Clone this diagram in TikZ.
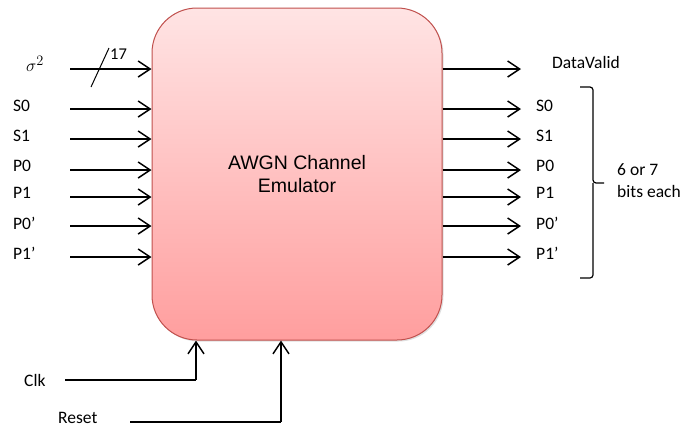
\documentclass[tikz,border=0pt]{standalone}
\usepackage{fontspec}
\setmainfont{Carlito}
\newfontfamily\arialf{Liberation Sans}
\usetikzlibrary{arrows.meta,shadows,calc}
\definecolor{boxtop}{HTML}{FFE4E4}
\definecolor{boxbot}{HTML}{FF9E9E}
\definecolor{boxline}{HTML}{C0504D}
\begin{document}
\begin{tikzpicture}[x=1pt,y=-1pt,
  lbl/.style={anchor=west,inner sep=0pt,font=\fontsize{17.5}{21}\selectfont},
  sig/.style={line width=1.5pt,-{Straight Barb[length=12pt,width=16pt,line width=1.5pt]}},
  wire/.style={line width=1.5pt}]
\useasboundingbox (0,0) rectangle (683,429);
\node[draw=boxline,line width=1pt,rounded corners=45pt,top color=boxtop,bottom color=boxbot,
  minimum width=290pt,minimum height=332pt,inner sep=0pt,
  drop shadow={opacity=0.25,shadow xshift=1.5pt,shadow yshift=-1.5pt},
  align=center,font=\arialf\fontsize{19.5}{22.5}\selectfont] (box) at (297,174) {AWGN Channel\\Emulator};
% inputs
\coordinate (isig) at (70,69);
\coordinate (iS0) at (70,109);
\coordinate (iS1) at (70,139);
\coordinate (iP0) at (70,170);
\coordinate (iP1) at (70,197);
\coordinate (iP0p) at (70,226);
\coordinate (iP1p) at (70,257);
\node[lbl,font=\fontsize{19}{21}\selectfont] (lsig) at (26,64) {$\sigma^2$};
\node[lbl] (lS0) at (13,106) {S0};
\node[lbl] (lS1) at (13,136) {S1};
\node[lbl] (lP0) at (13,166) {P0};
\node[lbl] (lP1) at (13,193) {P1};
\node[lbl] (lP0p) at (13,223) {P0’};
\node[lbl] (lP1p) at (13,253) {P1’};
\foreach \n in {isig,iS0,iS1,iP0,iP1,iP0p,iP1p}
  \draw[sig] (\n) -- (\n -| box.west);
\coordinate (sl1) at (91,87);
\coordinate (sl2) at (109,48);
\draw[line width=1pt] (sl1) -- (sl2);
\node[lbl,font=\fontsize{16.5}{19}\selectfont] (n17) at (110,54) {17};
% outputs
\coordinate (oDV) at (521,69);
\coordinate (oS0) at (521,109);
\coordinate (oS1) at (521,139);
\coordinate (oP0) at (521,170);
\coordinate (oP1) at (521,197);
\coordinate (oP0p) at (521,226);
\coordinate (oP1p) at (521,257);
\foreach \n in {oDV,oS0,oS1,oP0,oP1,oP0p,oP1p}
  \draw[sig] (\n -| box.east) -- (\n);
\node[lbl] (lDV) at (552,62) {DataValid};
\node[lbl] (oS0l) at (536,106) {S0};
\node[lbl] (oS1l) at (536,136) {S1};
\node[lbl] (oP0l) at (536,166) {P0};
\node[lbl] (oP1l) at (536,193) {P1};
\node[lbl] (oP0pl) at (536,223) {P0’};
\node[lbl] (oP1pl) at (536,253) {P1’};
% brace
\coordinate (bt) at (580,87);
\coordinate (bb) at (580,278);
\coordinate (bm) at (604,183);
\draw[line width=1.2pt,rounded corners=3pt] (bt) -- (593,87) -- (593,183) -- (bm);
\draw[line width=1.2pt,rounded corners=3pt] (bb) -- (593,278) -- (593,183);
\node[lbl,align=left,font=\fontsize{17.5}{22}\selectfont] (bits) at (617,181) {6 or 7\\bits each};
% clk / reset
\node[lbl] (lclk) at (24,380) {Clk};
\node[lbl] (lrst) at (58,418) {Reset};
\coordinate (cs) at (65,380);
\coordinate (ck) at (196,380);
\coordinate (rs) at (130,422);
\coordinate (rk) at (281,422);
\draw[wire] (cs) -- (ck);
\draw[sig] (ck) -- (ck |- box.south);
\draw[wire] (rs) -- (rk);
\draw[sig] (rk) -- (rk |- box.south);
\end{tikzpicture}
\end{document}
